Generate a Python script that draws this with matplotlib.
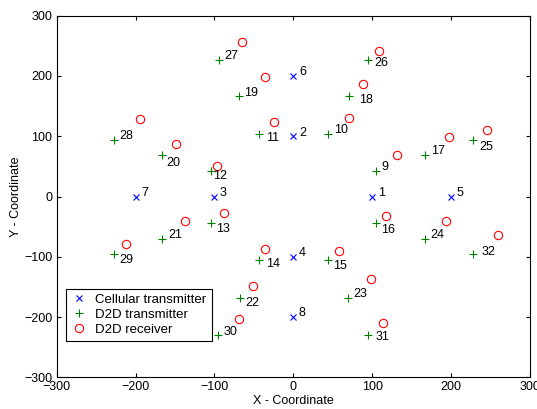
import matplotlib
matplotlib.use('Agg')
import matplotlib.pyplot as plt

plt.rcParams['font.family'] = ['Liberation Sans', 'DejaVu Sans']

# Cellular transmitters (ids 1-8)
cell_x = [100, 0, -100, 0, 200, 0, -200, 0]
cell_y = [0, 100, 0, -100, 0, 200, 0, -200]

# D2D transmitters (ids 9-32)
d2d_tx_x = [105, 44, -43, -105, -105, -43, 44, 105,
            167, 70, -69, -166, -166, -68, 69, 167,
            228, 95, -94, -228, -228, -95, 95, 228]
d2d_tx_y = [43, 104, 104, 42, -44, -106, -106, -44,
            69, 166, 166, 69, -70, -168, -168, -70,
            94, 227, 227, 94, -96, -230, -230, -95]

# D2D receivers
d2d_rx_x = [-65, -36, -195, -24, -149, -97,
            108, 88, 70, 197, 246, 131,
            -88, -138, -212, -36, -51, -69,
            117, 194, 259, 58, 98, 114]
d2d_rx_y = [257, 198, 128, 124, 87, 50,
            241, 186, 131, 99, 111, 69,
            -28, -41, -79, -87, -149, -203,
            -32, -41, -64, -91, -137, -210]

# label offsets in points (default is above-right of the marker)
label_offsets = {11: (4.5, -2.7), 12: (2, -3.6), 13: (4, -4.5), 14: (4.5, -2.4),
                 15: (3.5, -4), 16: (3.5, -4.8), 18: (7.5, -2.7), 20: (3, -5.5),
                 22: (4, -3.6), 25: (4.5, -4.8), 26: (4.5, -2.2), 29: (4, -4),
                 31: (5, -1.5), 32: (6, 1.5)}

fig = plt.figure(figsize=(5.37, 4.09), dpi=100)
ax = fig.add_axes([0.1056, 0.0775, 0.8814, 0.8841])

ax.plot(cell_x, cell_y, 'x', color='#0000ff', markersize=4.5, markeredgewidth=0.8,
        linestyle='none', label='Cellular transmitter')
ax.plot(d2d_tx_x, d2d_tx_y, '+', color='#008000', markersize=6, markeredgewidth=0.8,
        linestyle='none', label='D2D transmitter')
ax.plot(d2d_rx_x, d2d_rx_y, 'o', color='#ff0000', markerfacecolor='none', markersize=6,
        markeredgewidth=0.8, linestyle='none', label='D2D receiver')

all_x = cell_x + d2d_tx_x
all_y = cell_y + d2d_tx_y
for i, (x, y) in enumerate(zip(all_x, all_y)):
    num = i + 1
    off = label_offsets.get(num, (4, 2.6))
    ax.annotate(str(num), (x, y), xytext=off, textcoords='offset points',
                fontsize=9, va='center', ha='left')

ax.set_xlim(-300, 300)
ax.set_ylim(-300, 300)
ax.set_xticks(range(-300, 301, 100))
ax.set_yticks(range(-300, 301, 100))
ax.tick_params(direction='in', top=True, right=True, labelsize=9, length=3, pad=3)
ax.set_xlabel('X - Coordinate', fontsize=9, labelpad=1)
ax.set_ylabel('Y - Coordinate', fontsize=9, labelpad=2)
for s in ax.spines.values():
    s.set_linewidth(0.8)

leg = ax.legend(loc='lower left', bbox_to_anchor=(0.02, 0.10), fontsize=9.5,
                fancybox=False, edgecolor='black', framealpha=1,
                borderpad=0.4, labelspacing=0.2, handlelength=1.2, handletextpad=0.6,
                borderaxespad=0)
leg.get_frame().set_linewidth(0.8)

fig.savefig('out.png', dpi=100)
